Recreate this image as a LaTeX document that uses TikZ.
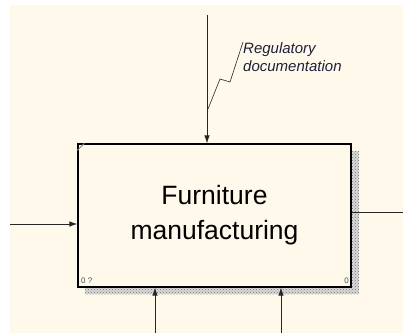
\documentclass[tikz,border=0pt]{standalone}
\usepackage{fontspec}
\setmainfont{Liberation Sans}
\usetikzlibrary{patterns,arrows.meta}
\definecolor{idefcream}{HTML}{FFF9EC}
\definecolor{idefink}{HTML}{1E2038}
\definecolor{idefshade}{HTML}{8C8C8C}
\begin{document}
\begin{tikzpicture}[
  x=1pt, y=-1pt,
  >={Latex[length=8pt,width=5.5pt]},
  flow/.style={draw=black!85, line width=0.9pt},
  actbox/.style={draw=black, line width=1.2pt, fill=idefcream, minimum width=273pt, minimum height=143pt, inner sep=0pt, align=center, font=\fontsize{26.5}{35}\selectfont},
  tunnel/.style={font=\itshape\fontsize{15}{18}\selectfont, text=idefink, align=left, inner sep=0pt},
  tag/.style={font=\fontsize{8}{9}\selectfont, text=idefink!80, inner sep=0pt}
]
\useasboundingbox (0,0) rectangle (403,333);
\fill[white] (0,0) rectangle (403,333);
\fill[idefcream] (10,5) rectangle (403,333);

% shadow of the activity box
\fill[gray!30] (85,151) rectangle (359,294);
\fill[pattern=crosshatch dots, pattern color=black!55] (85,151) rectangle (359,294);

\node[actbox] (mfg) at (214.5,215.5) {Furniture\\manufacturing};
\draw[idefshade, line width=0.8pt] (mfg.north west) ++(0,7) -- ++(7,-7);
\node[tag, anchor=south west] (num) at (81,284) {0 ?};
\node[tag, anchor=south east] (cost) at (349,284) {0};

% control
\coordinate (ctrl) at (207,15);
\coordinate (bend) at (208,109);
\node[tunnel, anchor=north west] (reg) at (243,42) {Regulatory\\documentation};
\draw[flow, ->] (ctrl) -- (ctrl |- mfg.north);
\draw[black!85, line width=0.6pt] (bend) -- (220,79) -- (230,82) -- (reg.north west);

% input and output
\coordinate (inp) at (10,224);
\coordinate (outp) at (403,212);
\draw[flow, ->] (inp) -- (inp -| mfg.west);
\draw[flow] (outp -| mfg.east) -- (outp);

% mechanisms
\coordinate (mech1) at (155,333);
\coordinate (mech2) at (281,333);
\draw[flow, ->] (mech1) -- (mech1 |- mfg.south);
\draw[flow, ->] (mech2) -- (mech2 |- mfg.south);
\end{tikzpicture}
\end{document}
